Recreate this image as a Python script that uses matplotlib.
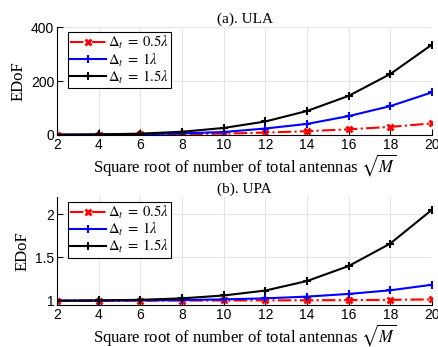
import matplotlib
matplotlib.use("Agg")
import matplotlib.pyplot as plt

x = [2, 4, 6, 8, 10, 12, 14, 16, 18, 20]

ula_05 = [1, 1, 2, 3, 5, 9, 14, 21, 30, 43]
ula_10 = [1, 1.5, 3, 6, 11, 24, 41, 70, 107, 158]
ula_15 = [1, 2, 5, 12, 26, 50, 89, 145, 226, 335]

upa_05 = [1, 1, 1.001, 1.002, 1.003, 1.004, 1.005, 1.007, 1.01, 1.015]
upa_10 = [1, 1.001, 1.003, 1.008, 1.015, 1.027, 1.047, 1.078, 1.12, 1.184]
upa_15 = [1, 1.003, 1.01, 1.027, 1.06, 1.117, 1.227, 1.40, 1.66, 2.05]

labels = [r'$\Delta_t\;=\;0.5\lambda$', r'$\Delta_t\;=\;1\lambda$', r'$\Delta_t\;=\;1.5\lambda$']
titles = ['(a). ULA', '(b). UPA']
xticks = [2, 4, 6, 8, 10, 12, 14, 16, 18, 20]

plt.rcParams['mathtext.fontset'] = 'stix'
plt.rcParams['font.family'] = ['Liberation Sans', 'DejaVu Sans']

fig = plt.figure(figsize=(4.39, 3.47), dpi=100)
ax1 = fig.add_axes([0.130, 0.611, 0.854, 0.311])
ax2 = fig.add_axes([0.130, 0.121, 0.854, 0.312])

serif = ['Liberation Serif', 'DejaVu Serif']

def draw(ax, s05, s10, s15, title, ylim, yticks, yticklabels):
    ax.plot(x, s05, color='red', linestyle='-.', marker='x', markersize=5,
            markeredgewidth=2, linewidth=1.5, label=labels[0])
    ax.plot(x, s10, color='blue', linestyle='-', marker='+', markersize=6,
            markeredgewidth=1.5, linewidth=1.5, label=labels[1])
    ax.plot(x, s15, color='black', linestyle='-', marker='+', markersize=6,
            markeredgewidth=1.5, linewidth=1.5, label=labels[2])
    ax.set_xlim(2, 20)
    ax.set_ylim(*ylim)
    ax.set_xticks(xticks)
    ax.set_yticks(yticks)
    ax.set_yticklabels(yticklabels)
    ax.grid(True, color='#e6e6e6', linewidth=0.8)
    ax.set_axisbelow(True)
    for s in ['top', 'right']:
        ax.spines[s].set_visible(False)
    for s in ['left', 'bottom']:
        ax.spines[s].set_linewidth(0.8)
    ax.tick_params(direction='in', length=4, width=0.8, labelsize=10, pad=2)
    ax.set_title(title, fontsize=11, family=serif, pad=3)
    ax.set_xlabel(r'Square root of number of total antennas $\sqrt{M}$', fontsize=12,
                  family=serif, labelpad=0)
    ax.set_ylabel('EDoF', fontsize=12, family=serif, labelpad=3)
    leg = ax.legend(loc='upper left', fontsize=10.5, frameon=True, fancybox=False,
                    edgecolor='black', framealpha=1, borderpad=0.15, labelspacing=0.0,
                    handlelength=2.5, handletextpad=0.1, borderaxespad=0.35,
                    bbox_to_anchor=(0.015, 1.0))
    leg.get_frame().set_linewidth(0.8)

draw(ax1, ula_05, ula_10, ula_15, titles[0], (0, 400), [0, 200, 400], ['0', '200', '400'])
draw(ax2, upa_05, upa_10, upa_15, titles[1], (0.95, 2.2), [1, 1.5, 2], ['1', '1.5', '2'])

fig.savefig('out.png', dpi=100)
